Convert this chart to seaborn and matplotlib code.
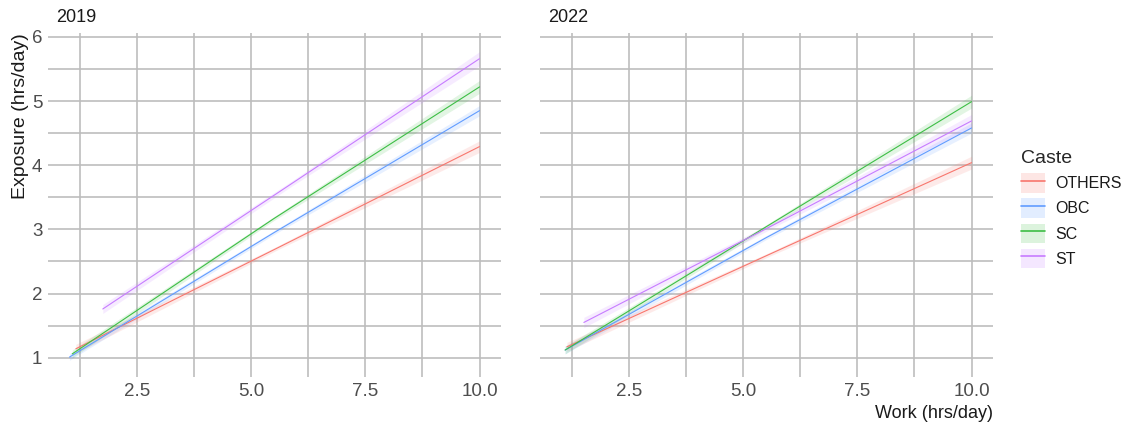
import matplotlib
matplotlib.use("Agg")
import matplotlib.pyplot as plt
from matplotlib.lines import Line2D
from matplotlib.patches import Patch
from matplotlib.legend_handler import HandlerTuple
import seaborn as sns
import pandas as pd

# valores (rectas ajustadas por casta y anio)
castas = ["OTHERS", "OBC", "SC", "ST"]
colores = ["#F8766D", "#619CFF", "#3DBE45", "#C77CFF"]
anios = ["2019", "2022"]

# inicio, medio y final de cada recta
x_2019 = {"OTHERS": [1.16, 5.6, 10.0], "OBC": [1.02, 5.5, 10.0],
          "SC": [1.08, 5.5, 10.0], "ST": [1.75, 5.9, 10.0]}
y_2019 = {"OTHERS": [1.14, 2.72, 4.29], "OBC": [1.01, 2.95, 4.85],
          "SC": [1.06, 3.17, 5.22], "ST": [1.76, 3.72, 5.66]}
ci_2019 = {"OTHERS": [0.07, 0.03, 0.09], "OBC": [0.05, 0.03, 0.08],
           "SC": [0.06, 0.03, 0.10], "ST": [0.07, 0.04, 0.11]}

x_2022 = {"OTHERS": [1.14, 5.6, 10.0], "OBC": [1.10, 5.5, 10.0],
          "SC": [1.10, 5.5, 10.0], "ST": [1.51, 5.8, 10.0]}
y_2022 = {"OTHERS": [1.17, 2.62, 4.04], "OBC": [1.12, 2.87, 4.58],
          "SC": [1.12, 3.04, 4.99], "ST": [1.55, 3.12, 4.69]}
ci_2022 = {"OTHERS": [0.07, 0.03, 0.10], "OBC": [0.06, 0.03, 0.08],
           "SC": [0.06, 0.03, 0.10], "ST": [0.08, 0.04, 0.10]}

datos = {"2019": (x_2019, y_2019, ci_2019), "2022": (x_2022, y_2022, ci_2022)}

filas = []
for anio in anios:
    xs, ys, cis = datos[anio]
    for c in castas:
        for xv, yv, cv in zip(xs[c], ys[c], cis[c]):
            filas.append({"anio": anio, "Caste": c, "work": xv, "exposure": yv,
                          "low": yv - cv, "high": yv + cv})
df = pd.DataFrame(filas)

sns.set_theme(style="white")
plt.rcParams["font.family"] = ["Liberation Sans", "DejaVu Sans"]

gris = "#bdbdbd"
fig = plt.figure(figsize=(11.27, 4.26), dpi=100)
ax1 = fig.add_axes([48 / 1127, 1 - 377 / 426, 453 / 1127, 344 / 426])
ax2 = fig.add_axes([540 / 1127, 1 - 377 / 426, 453 / 1127, 344 / 426], sharey=ax1)
paleta = dict(zip(castas, colores))

for ax, anio in zip([ax1, ax2], anios):
    sub = df[df["anio"] == anio]
    for c in castas:
        s = sub[sub["Caste"] == c]
        ax.fill_between(s["work"], s["low"], s["high"], color=paleta[c],
                        alpha=0.15, linewidth=0, zorder=2)
    sns.lineplot(data=sub, x="work", y="exposure", hue="Caste", palette=paleta,
                 hue_order=castas, ax=ax, linewidth=0.8, legend=False,
                 estimator=None, sort=True, zorder=3)
    ax.set_xlim(0.55, 10.47)
    ax.set_ylim(0.7, 6.06)
    ax.set_xticks([2.5, 5.0, 7.5, 10.0])
    ax.set_xticks([1.25, 3.75, 6.25, 8.75], minor=True)
    ax.set_yticks([1, 2, 3, 4, 5, 6])
    ax.set_yticks([1.5, 2.5, 3.5, 4.5, 5.5], minor=True)
    ax.set_xticklabels(["2.5", "5.0", "7.5", "10.0"])
    ax.grid(True, which="both", color=gris, linewidth=1.2, zorder=0)
    ax.set_axisbelow(True)
    for sp in ax.spines.values():
        sp.set_visible(False)
    ax.tick_params(which="both", length=0, labelsize=13.5, labelcolor="#4d4d4d", pad=4)
    ax.set_xlabel("")
    ax.set_ylabel("")
    ax.set_title(anio, loc="left", fontsize=13, color="#1a1a1a", pad=8, x=0.018)

ax1.set_yticklabels(["1", "2", "3", "4", "5", "6"])
plt.setp(ax2.get_yticklabels(), visible=False)
ax1.set_ylabel("Exposure (hrs/day)", fontsize=14, color="#1a1a1a", labelpad=2, loc="top")
ax2.set_xlabel("Work (hrs/day)", fontsize=13, color="#1a1a1a", loc="right", labelpad=4)

handles = []
for c in castas:
    handles.append((Patch(facecolor=paleta[c], alpha=0.18, edgecolor="none"),
                    Line2D([], [], color=paleta[c], linewidth=1.2)))
leg = fig.legend(handles, castas, title="Caste", loc="upper left",
                 bbox_to_anchor=(1007 / 1127, 1 - 136 / 426), frameon=False,
                 handler_map={tuple: HandlerTuple(ndivide=1)},
                 fontsize=11.5, title_fontsize=14, handlelength=1.5, handleheight=1.5,
                 labelspacing=0.36, handletextpad=0.6, alignment="left")
for t in leg.get_texts():
    t.set_color("#1a1a1a")

fig.savefig("out.png", dpi=100)
